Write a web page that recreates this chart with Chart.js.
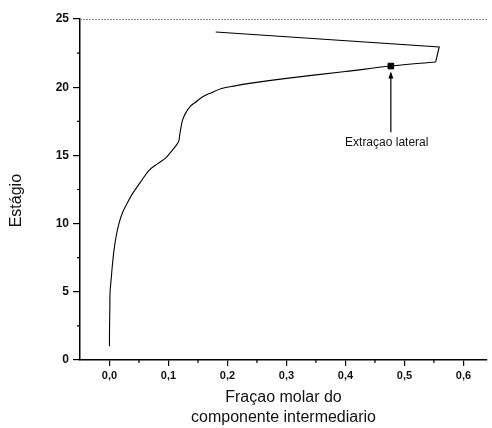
<!DOCTYPE html>
<html>
<head>
<meta charset="utf-8">
<script src="https://cdn.jsdelivr.net/npm/chart.js@4.4.0/dist/chart.umd.min.js"></script>
<style>
    body { margin: 0; background: #fff; }
    #wrap { width: 492px; height: 428px; }
</style>
</head>
<body>
<div id="wrap"><canvas id="myChart" width="492" height="428"></canvas></div>
<script>
// profile, in path order (up the column, out to the right, back along the top)
let fraction = [0.000, 0.000, 0.0003, 0.0006, 0.001, 0.003, 0.005, 0.0075, 0.011, 0.016, 0.022, 0.030, 0.039, 0.052, 0.067, 0.082, 0.095, 0.107, 0.117, 0.119, 0.121, 0.124, 0.129, 0.137, 0.146, 0.158, 0.173, 0.190, 0.213, 0.240, 0.300, 0.400, 0.477, 0.553, 0.559, 0.180];
let stage = [1, 2, 3, 4, 5, 6, 7, 8, 9, 10, 10.8, 11.5, 12.2, 13.0, 13.9, 14.4, 14.8, 15.4, 16.0, 16.5, 17.0, 17.6, 18.1, 18.6, 18.9, 19.3, 19.6, 19.9, 20.1, 20.3, 20.65, 21.15, 21.55, 21.85, 22.95, 24.05];
// the last three points are joined with straight segments (sharp turn at the right)
let cornerIndex = 33;

// side draw marker and its arrow / label
let sideDraw = [0.477, 21.55];
let arrowStage = [16.7, 21.0];
let sideLabel = 'Extraçao lateral';
let sideLabelAt = [0.47, 15.9];

let xMinor = [0.05, 0.15, 0.25, 0.35, 0.45, 0.55];
let yMinor = [2.5, 7.5, 12.5, 17.5, 22.5];

let font = '"Liberation Sans", Arial, sans-serif';

let profile = fraction.map(function (x, i) {
    return { x: x, y: stage[i] };
});

let extras = {
    id: 'extras',
    afterDraw: function (chart) {
        const ctx = chart.ctx;
        const xs = chart.scales.x;
        const ys = chart.scales.y;
        const area = chart.chartArea;
        ctx.save();

        // faint dotted frame along the top
        ctx.strokeStyle = '#8a8a8a';
        ctx.lineWidth = 1;
        ctx.setLineDash([2, 1]);
        ctx.beginPath();
        ctx.moveTo(area.left, area.top + 0.5);
        ctx.lineTo(area.right, area.top + 0.5);
        ctx.stroke();
        ctx.setLineDash([]);

        // minor ticks
        ctx.strokeStyle = '#000';
        ctx.lineWidth = 1.2;
        ctx.beginPath();
        xMinor.forEach(function (v) {
            let px = xs.getPixelForValue(v);
            ctx.moveTo(px, area.bottom);
            ctx.lineTo(px, area.bottom + 3);
        });
        yMinor.forEach(function (v) {
            let py = ys.getPixelForValue(v);
            ctx.moveTo(area.left, py);
            ctx.lineTo(area.left - 3, py);
        });
        ctx.stroke();

        // arrow head
        let ax = xs.getPixelForValue(sideDraw[0]);
        let ay = ys.getPixelForValue(arrowStage[1]);
        ctx.fillStyle = '#000';
        ctx.beginPath();
        ctx.moveTo(ax, ay - 2);
        ctx.lineTo(ax - 2.5, ay + 5);
        ctx.lineTo(ax + 2.5, ay + 5);
        ctx.closePath();
        ctx.fill();

        // label
        ctx.font = '12px ' + font;
        ctx.fillStyle = '#111';
        ctx.textAlign = 'center';
        ctx.textBaseline = 'middle';
        ctx.fillText(sideLabel, xs.getPixelForValue(sideLabelAt[0]), ys.getPixelForValue(sideLabelAt[1]));
        ctx.restore();
    }
};

const ctx = document.getElementById('myChart').getContext('2d');
var myChart = new Chart(ctx, {
    type: 'scatter',
    data: {
        datasets: [{
            data: profile.slice(0, cornerIndex + 1),
            showLine: true,
            borderColor: '#000',
            borderWidth: 1.1,
            pointRadius: 0,
            tension: 0.35
        }, {
            data: profile.slice(cornerIndex),
            showLine: true,
            borderColor: '#000',
            borderWidth: 1.1,
            pointRadius: 0,
            tension: 0
        }, {
            data: [{ x: sideDraw[0], y: arrowStage[0] }, { x: sideDraw[0], y: arrowStage[1] }],
            showLine: true,
            borderColor: '#000',
            borderWidth: 1.2,
            pointRadius: 0
        }, {
            data: [{ x: sideDraw[0], y: sideDraw[1] }],
            pointStyle: 'rect',
            pointRadius: 4,
            backgroundColor: '#000',
            borderColor: '#000'
        }]
    },
    options: {
        responsive: false,
        animation: false,
        layout: { padding: { top: 19, right: 0, bottom: 0, left: 0 } },
        plugins: {
            legend: { display: false },
            tooltip: { enabled: false }
        },
        scales: {
            x: {
                type: 'linear',
                min: -0.05,
                max: 0.64,
                afterFit: function (s) { s.height = 68; },
                border: { color: '#000', width: 1.5 },
                grid: { drawOnChartArea: false, tickLength: 6, color: '#000', lineWidth: 1.2 },
                ticks: {
                    stepSize: 0.1,
                    includeBounds: false,
                    autoSkip: false,
                    maxRotation: 0,
                    padding: 3,
                    color: '#111',
                    font: { family: font, size: 11, weight: 'bold' },
                    callback: function (v) { return v.toFixed(1).replace('.', ','); }
                },
                title: {
                    display: true,
                    text: ['Fraçao molar do', 'componente intermediario'],
                    color: '#111',
                    font: { family: font, size: 16, lineHeight: 1.25 },
                    padding: { top: 0, bottom: 0 }
                }
            },
            y: {
                min: 0,
                max: 25,
                afterFit: function (s) { s.width = 80; },
                border: { color: '#000', width: 1.5 },
                grid: { drawOnChartArea: false, tickLength: 7, color: '#000', lineWidth: 1.2 },
                ticks: {
                    stepSize: 5,
                    includeBounds: false,
                    padding: 4,
                    color: '#111',
                    font: { family: font, size: 12, weight: 'bold' }
                },
                title: {
                    display: true,
                    text: 'Estágio     ',
                    color: '#111',
                    font: { family: font, size: 16, lineHeight: 1.2 },
                    padding: { top: 7, bottom: 0 }
                }
            }
        }
    },
    plugins: [extras]
});
</script>
</body>
</html>
